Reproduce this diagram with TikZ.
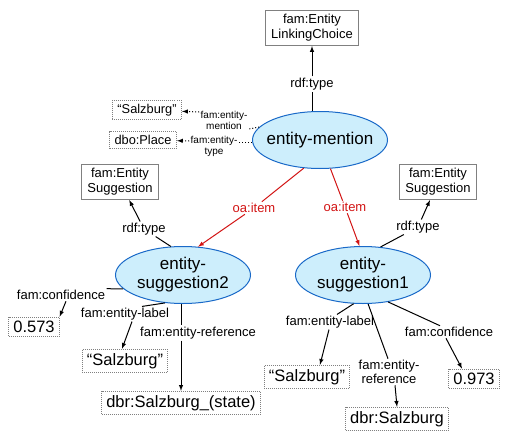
\documentclass[tikz,border=0pt]{standalone}
\usepackage{fontspec}
\setmainfont{Liberation Sans}
\usetikzlibrary{arrows,shapes,positioning}
\definecolor{gray}{rgb}{0.5,0.5,0.5}
\definecolor{ovalfill}{RGB}{205,238,252}
\definecolor{ovalline}{RGB}{25,105,200}
\definecolor{itemred}{RGB}{210,20,20}

\begin{document}
\begin{tikzpicture}[x=1pt,y=-1pt,line width=1pt,
  oval/.style={ellipse,draw=ovalline,fill=ovalfill,minimum width=135pt,minimum height=57pt,inner xsep=-8pt,inner ysep=0pt,align=center,font=\fontsize{17}{19}\selectfont},
  classbox/.style={draw=gray,fill=white,align=center,inner xsep=5.5pt,inner ysep=4pt,font=\fontsize{13}{15}\selectfont},
  litbox/.style={draw=gray,densely dotted,inner xsep=4.5pt,inner ysep=4pt,font=\fontsize{16.5}{18}\selectfont},
  toplit/.style={litbox,inner xsep=5pt,inner ysep=3.5pt,font=\fontsize{12.8}{14}\selectfont},
  prop/.style={inner sep=1pt,align=center,font=\fontsize{13}{14}\selectfont},
  smallprop/.style={inner sep=1pt,align=center,font=\fontsize{10}{11}\selectfont},
  link/.style={black},
  arr/.style={black,-latex},
  dotlink/.style={black,dotted},
  dotarr/.style={black,dotted,-latex},
  itemarr/.style={itemred,-latex}]
\useasboundingbox (0,0) rectangle (505,436);

% mention part
\node[classbox] (choice) at (312,28) {fam:Entity\\LinkingChoice};
\node[oval] (mention) at (320,140) {entity-mention};
\node[prop] (mtype) at (312,84) {rdf:type};
\node[toplit] (mlabel) at (147,110) {``Salzburg''};
\node[toplit] (mplace) at (143,140) {dbo:Place};
\node[smallprop] (pmention) at (224,120) {fam:entity-\\mention};
\node[smallprop] (ptype) at (214,146) {fam:entity-\\type};

\draw[link] (mention.north -| mtype) -- (mtype);
\draw[arr] (mtype) -- (choice);
\draw[dotlink] (mention.168) -- (pmention.east |- 0,129);
\draw[dotarr] (pmention.west |- 0,112) -- (mlabel);
\draw[dotlink] (mention.west |- 0,142) -- (ptype.east |- 0,142);
\draw[dotarr] (ptype.west |- 0,141) -- (mplace);

% suggestions
\node[oval] (sugg2) at (183,275) {entity-\\suggestion2};
\node[oval] (sugg1) at (363,275) {entity-\\suggestion1};
\node[prop,text=itemred] (item2) at (254,208) {oa:item};
\node[prop,text=itemred] (item1) at (345,207) {oa:item};
\draw[itemred] (mention.240) -- (item2);
\draw[itemarr] (item2) -- (sugg2.62);
\draw[itemred] (mention.290) -- (item1);
\draw[itemarr] (item1) -- (sugg1.97);

\node[classbox] (type2) at (120,182) {fam:Entity\\Suggestion};
\node[classbox] (type1) at (438,182) {fam:Entity\\Suggestion};
\node[prop] (stype2) at (144,229) {rdf:type};
\node[prop] (stype1) at (418,227) {rdf:type};
\draw[link] (sugg2.113) -- (stype2);
\draw[arr] (stype2) -- (type2);
\draw[link] (sugg1.58) -- (stype1);
\draw[arr] (stype1) -- (type1);

% left suggestion values
\node[litbox] (conf2) at (34,327) {0.573};
\node[litbox] (label2) at (125,361) {``Salzburg''};
\node[litbox] (ref2) at (181,403) {dbr:Salzburg\_(state)};
\node[prop] (pconf2) at (61,295) {fam:confidence};
\node[prop] (plabel2) at (125,314) {fam:entity-label};
\node[prop] (pref2) at (198,333) {fam:entity-reference};
\draw[link] (sugg2.193) -- (pconf2.north east);
\draw[arr] (pconf2.south) ++(5,0) -- (conf2.north east);
\draw[link] (sugg2.237) -- (plabel2.north -| 142,0);
\draw[arr] (plabel2.south -| 132,0) -- (label2.north -| 122,0);
\draw[link] (sugg2.south -| 181,0) -- (pref2.north -| 181,0);
\draw[arr] (pref2.south -| 181,0) -- (ref2);

% right suggestion values
\node[litbox] (label1) at (307,377) {``Salzburg''};
\node[litbox] (ref1) at (397,419) {dbr:Salzburg};
\node[litbox] (conf1) at (474,379) {0.973};
\node[prop] (plabel1) at (330,322) {fam:entity-label};
\node[prop] (pref1) at (389,372) {fam:entity-\\reference};
\node[prop] (pconf1) at (449,332) {fam:confidence};
\draw[link] (sugg1.252) -- (plabel1.north -| 337,0);
\draw[arr] (plabel1.south -| 329,0) -- (label1.north -| 320,0);
\draw[link] (sugg1.280) -- (pref1.north -| 388,0);
\draw[arr] (pref1.south -| 395,0) -- (ref1.north -| 397,0);
\draw[link] (sugg1.313) -- (pconf1.north -| 440,0);
\draw[arr] (pconf1.south -| 446,0) -- (conf1.north -| 462,0);
\end{tikzpicture}
\end{document}
